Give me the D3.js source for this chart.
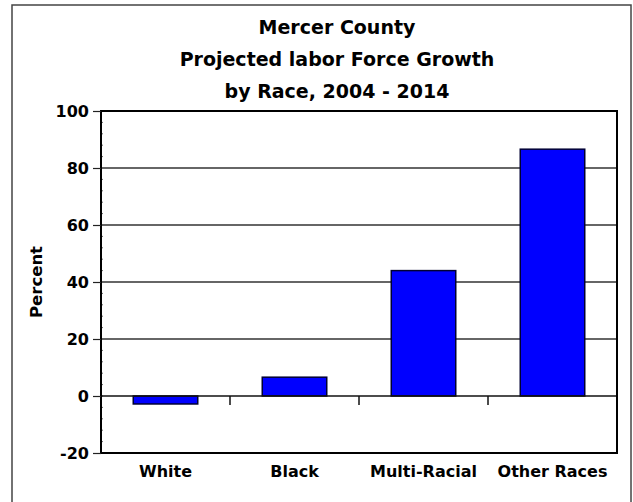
<!DOCTYPE html>
<html>
<head>
<meta charset="utf-8">
<script src="https://cdn.jsdelivr.net/npm/d3@7"></script>
<style>
  body { margin: 0; background: #fff; }
  svg text { font-family: "DejaVu Sans", sans-serif; font-weight: bold; fill: #000; }
</style>
</head>
<body>
<svg id="chart" width="633" height="502"></svg>
<script>
const categories = ["White", "Black", "Multi-Racial", "Other Races"];
const values = [-2.8, 6.6, 44.0, 86.6];
const yTicks = [-20, 0, 20, 40, 60, 80, 100];
const titleLines = ["Mercer County", "Projected labor Force Growth", "by Race, 2004 - 2014"];
const yLabel = "Percent";

const svg = d3.select("#chart");
const plot = { left: 101, right: 617, top: 111, bottom: 453 };

// outer frame
svg.append("rect")
  .attr("x", 12).attr("y", 5)
  .attr("width", 619).attr("height", 510)
  .attr("fill", "none").attr("stroke", "#444").attr("stroke-width", 1.5);

const x = d3.scaleBand().domain(categories).range([plot.left, plot.right]).paddingInner(0.5).paddingOuter(0.25);
const xb = d3.scaleBand().domain(categories).range([plot.left, plot.right]);
const y = d3.scaleLinear().domain([-20, 100]).range([plot.bottom, plot.top]);

// gridlines
svg.append("g").selectAll("line").data(yTicks.filter(t => t > -20 && t < 100 && t !== 0)).join("line")
  .attr("x1", plot.left).attr("x2", plot.right)
  .attr("y1", d => y(d)).attr("y2", d => y(d))
  .attr("stroke", "#333").attr("stroke-width", 1.5);

// minor ticks on y axis
const minor = d3.range(-20, 100, 4);
svg.append("g").selectAll("line").data(minor).join("line")
  .attr("x1", plot.left).attr("x2", plot.left + 2)
  .attr("y1", d => y(d)).attr("y2", d => y(d))
  .attr("stroke", "#666").attr("stroke-width", 1);

// bars
svg.append("g").selectAll("rect").data(categories).join("rect")
  .attr("x", d => x(d))
  .attr("width", x.bandwidth())
  .attr("y", (d, i) => y(Math.max(0, values[i])))
  .attr("height", (d, i) => Math.abs(y(values[i]) - y(0)))
  .attr("fill", "#0000ff")
  .attr("stroke", "#000033").attr("stroke-width", 1.5);

// zero line
svg.append("line")
  .attr("x1", plot.left).attr("x2", plot.right)
  .attr("y1", y(0)).attr("y2", y(0))
  .attr("stroke", "#111").attr("stroke-width", 1.5);

// category boundary ticks at zero line
svg.append("g").selectAll("line").data(categories.slice(1)).join("line")
  .attr("x1", d => xb(d)).attr("x2", d => xb(d))
  .attr("y1", y(0)).attr("y2", y(0) + 9)
  .attr("stroke", "#111").attr("stroke-width", 1.5);

// plot border
svg.append("rect")
  .attr("x", plot.left).attr("y", plot.top)
  .attr("width", plot.right - plot.left).attr("height", plot.bottom - plot.top)
  .attr("fill", "none").attr("stroke", "#000").attr("stroke-width", 2);

// y axis
const yAxis = d3.axisLeft(y).tickValues(yTicks).tickSize(8).tickPadding(4).tickFormat(d => String(d));
const gy = svg.append("g").attr("transform", `translate(${plot.left},0)`).call(yAxis);
gy.select(".domain").remove();
gy.selectAll(".tick line").attr("stroke", "#222").attr("stroke-width", 1.2);
gy.selectAll(".tick text").style("font-size", "16px").attr("dy", "0.36em");

// x labels
const xAxis = d3.axisBottom(xb).tickSize(0).tickPadding(0);
const gx = svg.append("g").attr("transform", `translate(0,${plot.bottom + 13})`).call(xAxis);
gx.select(".domain").remove();
gx.selectAll(".tick text").style("font-size", "16px").attr("dy", "0.71em");

// y label
svg.append("text")
  .attr("transform", `translate(42,${(plot.top + plot.bottom) / 2}) rotate(-90)`)
  .attr("text-anchor", "middle")
  .style("font-size", "16.5px")
  .text(yLabel);

// title
svg.append("g").selectAll("text").data(titleLines).join("text")
  .attr("x", 337)
  .attr("y", (d, i) => 34 + i * 32)
  .attr("text-anchor", "middle")
  .style("font-size", "19px")
  .text(d => d);
</script>
</body>
</html>
